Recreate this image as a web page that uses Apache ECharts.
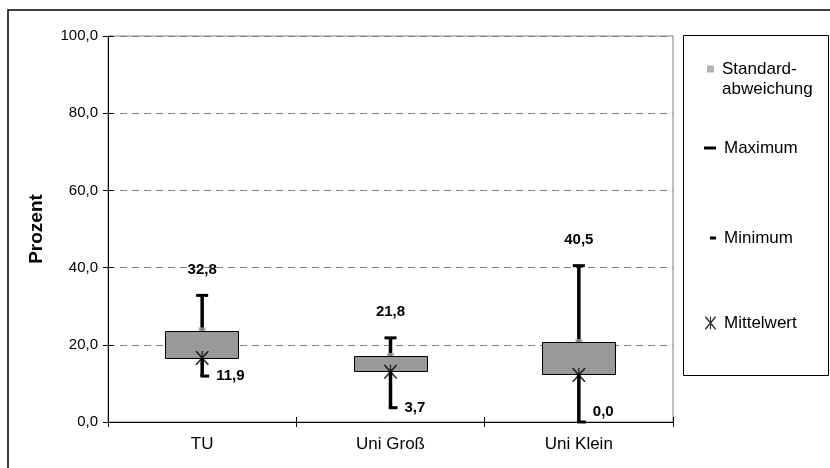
<!DOCTYPE html>
<html><head><meta charset="utf-8">
<script src="https://cdn.jsdelivr.net/npm/echarts@6/dist/echarts.min.js"></script>
<style>html,body{margin:0;padding:0;background:#fff}#c{width:830px;height:468px}</style>
</head><body><div id="c"></div>
<script>
// ---- data ----
const categories = ['TU', 'Uni Groß', 'Uni Klein'];
const standardabweichung = [23.6, 17.0, 20.6];
const maximum = [32.8, 21.8, 40.5];
const minimum = [11.9, 3.7, 0.0];
const mittelwert = [16.6, 13.0, 12.2];
const yMin = 0, yMax = 100, yStep = 20;

const FONT = "'Liberation Sans', Arial, sans-serif";
const fmt = v => v.toFixed(1).replace('.', ',');
const chart = echarts.init(document.getElementById('c'), null, { renderer: 'canvas' });

const starPath = 'path://M5.4,0H6.6V14H5.4Z M0,0L1.2,0L12,13L12,14L10.8,14L0,1Z M12,0L12,1L1.2,14L0,14L0,13L10.8,0Z';

const legendText = { color: '#000', fontSize: 17, fontFamily: FONT, lineHeight: 20, padding: [0, 0, 0, 3] };
function leg(name, icon, left, top, w, h, extra) {
  return Object.assign({
    data: [{ name: name, icon: icon }], left: left, top: top, orient: 'vertical',
    itemWidth: w, itemHeight: h, padding: 0, selectedMode: false,
    itemStyle: { borderWidth: 0 }, textStyle: legendText
  }, extra || {});
}

const option = {
  backgroundColor: '#fff',
  animation: false,
  grid: { left: 108, right: 157, top: 36, bottom: 46, show: true, borderColor: '#808080', borderWidth: 1, backgroundColor: 'transparent' },
  graphic: [
    { type: 'rect', shape: { x: 8, y: 10, width: 900, height: 600 }, style: { fill: 'none', stroke: '#000', lineWidth: 1.5 }, silent: true },
    { type: 'rect', shape: { x: 683.5, y: 35.5, width: 145, height: 340 }, style: { fill: 'none', stroke: '#000', lineWidth: 1 }, silent: true }
  ],
  legend: [
    leg('Standardabweichung', 'path://M0,0H7V7H0Z M0,26.95H0.05V27H0Z', 707, 59, 7, 27, { formatter: () => 'Standard-\nabweichung' }),
    leg('Maximum', 'path://M0,0H12V3H0Z', 704, 138, 12, 3),
    leg('Minimum', 'path://M0,0H6V3H0Z', 710, 228, 6, 3),
    leg('Mittelwert', starPath, 705, 313, 11, 13)
  ],
  xAxis: [
    {
      type: 'category', data: categories,
      axisLine: { lineStyle: { color: '#000', width: 1 } },
      axisTick: { show: true, length: 5, lineStyle: { color: '#000' } },
      axisLabel: { color: '#000', fontSize: 17, fontFamily: FONT, margin: 14 },
      splitLine: { show: false }
    },
    {
      type: 'category', data: categories, position: 'bottom', offset: 0,
      axisLine: { show: false },
      axisTick: { show: true, inside: true, length: 5, lineStyle: { color: '#000' } },
      axisLabel: { show: false }, splitLine: { show: false }
    }
  ],
  yAxis: [
    {
      type: 'value', min: yMin, max: yMax, interval: yStep,
      name: 'Prozent', nameLocation: 'middle', nameGap: 62,
      nameTextStyle: { color: '#000', fontWeight: 'bold', fontSize: 19, fontFamily: FONT },
      axisLine: { show: true, lineStyle: { color: '#000', width: 1 } },
      axisTick: { show: true, length: 5, lineStyle: { color: '#000' } },
      axisLabel: { color: '#000', fontSize: 15, fontFamily: FONT, margin: 10, formatter: v => fmt(v) },
      splitLine: { show: true, lineStyle: { color: '#808080', type: [7, 5], width: 1 } }
    },
    {
      type: 'value', min: yMin, max: yMax, interval: yStep, position: 'left', offset: 0,
      axisLine: { show: false },
      axisTick: { show: true, inside: true, length: 5, lineStyle: { color: '#000' } },
      axisLabel: { show: false }, splitLine: { show: false }
    }
  ],
  series: [
    {
      name: 'Maximum', type: 'custom', z: 1,
      itemStyle: { color: '#000' },
      data: maximum.map((v, i) => [i, v, minimum[i]]),
      encode: { x: 0, y: [1, 2] },
      renderItem: (params, api) => {
        const i = api.value(0);
        const hi = api.coord([i, api.value(1)]);
        const lo = api.coord([i, api.value(2)]);
        return {
          type: 'group', children: [
            { type: 'line', shape: { x1: hi[0], y1: hi[1], x2: lo[0], y2: lo[1] }, style: { stroke: '#000', lineWidth: 3.5 } },
            { type: 'line', shape: { x1: hi[0] - 6, y1: hi[1], x2: hi[0] + 6, y2: hi[1] }, style: { stroke: '#000', lineWidth: 3 } },
            { type: 'text', style: { text: fmt(api.value(1)), x: hi[0], y: hi[1] - 26, align: 'center', verticalAlign: 'middle', font: 'bold 15px ' + FONT, fill: '#000' } }
          ]
        };
      }
    },
    {
      name: 'Standardabweichung', type: 'scatter', z: 2,
      symbol: 'rect', symbolSize: 7,
      itemStyle: { color: '#a0a0a0' },
      data: standardabweichung.map((v, i) => [i, v])
    },
    {
      name: 'Box', type: 'custom', z: 3,
      data: mittelwert.map((v, i) => [i, v, standardabweichung[i]]),
      encode: { x: 0, y: [1, 2] },
      renderItem: (params, api) => {
        const i = api.value(0);
        const top = api.coord([i, api.value(2)]);
        const bot = api.coord([i, api.value(1)]);
        const w = api.size([1, 0])[0] * 0.39;
        return {
          type: 'rect',
          shape: { x: Math.round(top[0] - w / 2) + 0.5, y: Math.round(top[1]) + 0.5, width: Math.round(w), height: Math.round(bot[1] - top[1]) },
          style: { fill: '#999999', stroke: '#000', lineWidth: 1 }
        };
      }
    },
    {
      name: 'Minimum', type: 'custom', z: 4,
      itemStyle: { color: '#000' },
      data: minimum.map((v, i) => [i, v]),
      encode: { x: 0, y: 1 },
      renderItem: (params, api) => {
        const i = api.value(0);
        const lo = api.coord([i, api.value(1)]);
        const bottom = params.coordSys.y + params.coordSys.height;
        return {
          type: 'group', children: [
            { type: 'line', shape: { x1: lo[0] - 1.75, y1: lo[1], x2: lo[0] + 7, y2: lo[1] }, style: { stroke: '#000', lineWidth: 3 } },
            { type: 'text', style: { text: fmt(api.value(1)), x: lo[0] + 14, y: Math.min(lo[1], bottom - 10), align: 'left', verticalAlign: 'middle', font: 'bold 15px ' + FONT, fill: '#000' } }
          ]
        };
      }
    },
    {
      name: 'Mittelwert', type: 'scatter', z: 5,
      symbol: starPath, symbolSize: [13, 14],
      itemStyle: { color: '#000' },
      data: mittelwert.map((v, i) => [i, v])
    }
  ]
};
chart.setOption(option);
</script>
</body></html>
